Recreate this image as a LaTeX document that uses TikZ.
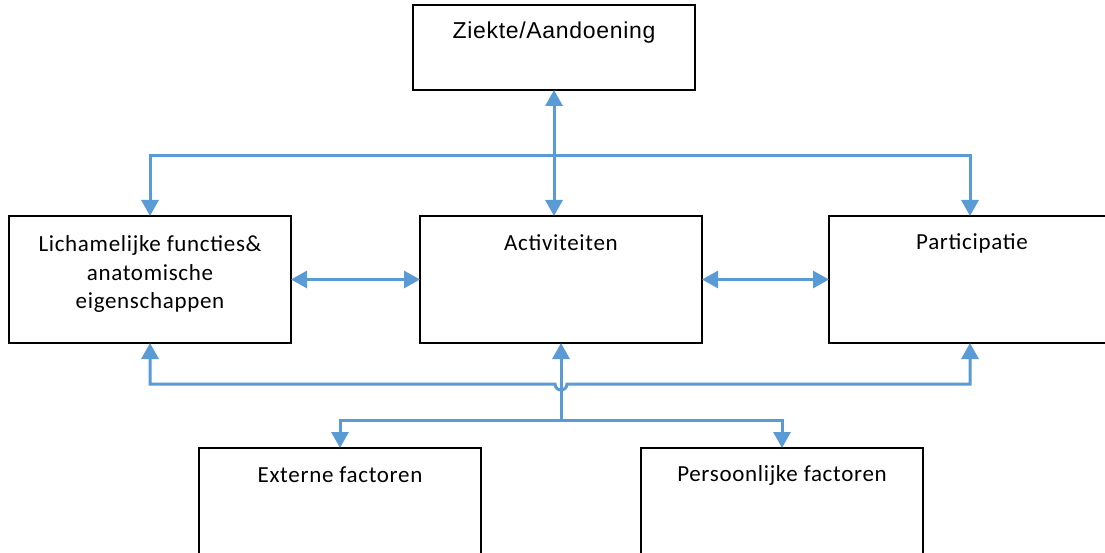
\documentclass[tikz,border=0pt]{standalone}
\usepackage{fontspec}
\setmainfont[LetterSpace=3]{Carlito}
\newfontfamily\arialf[LetterSpace=3]{Liberation Sans}
\usetikzlibrary{arrows.meta}
\definecolor{linkblue}{RGB}{91,155,213}
\begin{document}
\begin{tikzpicture}[x=1pt,y=-1pt,
  box/.style={draw=black, line width=2pt, fill=white, anchor=north west, inner sep=0pt, outer sep=0pt},
  conn/.style={draw=linkblue, line width=3pt},
  tipend/.style={-{Triangle[width=17pt,length=16pt]}},
  tipboth/.style={{Triangle[width=17pt,length=16pt]}-{Triangle[width=17pt,length=16pt]}},
  lbl/.style={font=\fontsize{23}{28.5}\selectfont, align=center, text=black, inner sep=0pt}]
\clip (0,0) rectangle (1105,553);
\fill[white] (0,0) rectangle (1105,553);
% boxes
\node[box, minimum width=282pt, minimum height=85pt] (ziekte) at (413,5) {};
\node[box, minimum width=282pt, minimum height=127pt] (licham) at (9,216) {};
\node[box, minimum width=282pt, minimum height=127pt] (act) at (420,216) {};
\node[box, minimum width=282pt, minimum height=127pt] (part) at (829,216) {};
\node[box, minimum width=282pt, minimum height=140pt] (ext) at (199,448) {};
\node[box, minimum width=282pt, minimum height=140pt] (pers) at (641,448) {};
% labels
\node[lbl, font=\arialf\fontsize{23}{28}\selectfont] (tz) at (554,33) {Ziekte/Aandoening};
\node[lbl] (tl) at (150,274) {Lichamelijke functies\&\\anatomische\\eigenschappen};
\node[lbl] (ta) at (561,243) {Activiteiten};
\node[lbl] (tp) at (972,243) {Participatie};
\node[lbl] (te) at (340,475) {Externe factoren};
\node[lbl] (tpf) at (782,475) {Persoonlijke factoren};
% connectors
\path (ziekte.south |- 0,156) coordinate (topj);
\draw[conn, tipboth] (ziekte.south) -- (ziekte.south |- act.north);
\draw[conn, tipend] (topj) -| (licham.north);
\draw[conn, tipend] (topj) -| (part.north);
\draw[conn, tipboth] (licham.east) -- (act.west);
\draw[conn, tipboth] (act.east) -- (part.west);
\path (act.south |- 0,420) coordinate (botj);
\path (act.south |- 0,384) coordinate (hop);
\draw[conn, tipend] (botj) -- (act.south);
\draw[conn, tipend] (botj) -| (ext.north);
\draw[conn, tipend] (botj) -| (pers.north);
\draw[conn, tipboth] (licham.south) |- ([xshift=-6pt]hop) arc[start angle=180, end angle=360, radius=6pt] -| (part.south);
\end{tikzpicture}
\end{document}
